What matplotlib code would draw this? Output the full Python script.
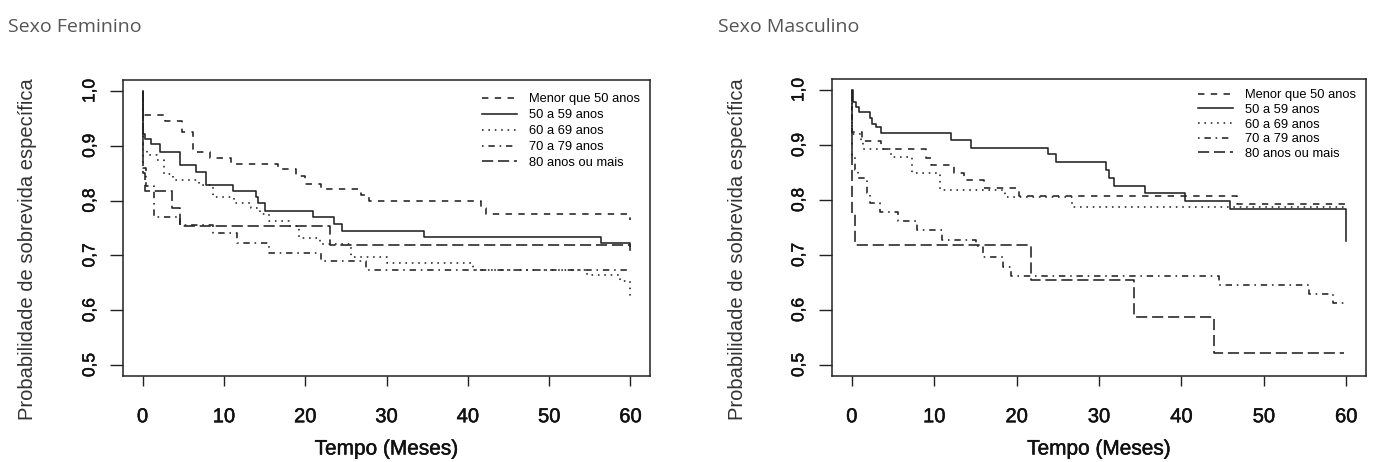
import matplotlib
matplotlib.use('Agg')
import matplotlib.pyplot as plt
import matplotlib.patheffects as pe
from matplotlib.ticker import FuncFormatter

# Kaplan-Meier step values (time in months, survival)
labels = ['Menor que 50 anos', '50 a 59 anos', '60 a 69 anos', '70 a 79 anos', '80 anos ou mais']

# Sexo Feminino
fem_t_lt50 = [0, 0, 2.8, 4.9, 6.2, 8.3, 10.9, 16.7, 18.9, 20.0, 22.0, 26.9, 27.9, 41.6, 42.2, 60]
fem_s_lt50 = [1.0, 0.957, 0.945, 0.925, 0.889, 0.878, 0.866, 0.857, 0.844, 0.831, 0.822, 0.81, 0.80, 0.787, 0.776, 0.764]
fem_t_50 = [0, 0, 0.3, 1.1, 2.1, 4.6, 6.6, 7.8, 11.1, 13.9, 14.2, 15.1, 21.0, 23.6, 24.5, 34.6, 56.4, 60]
fem_s_50 = [1.0, 0.921, 0.912, 0.904, 0.888, 0.865, 0.852, 0.829, 0.818, 0.807, 0.795, 0.781, 0.770, 0.758, 0.745, 0.734, 0.722, 0.71]
fem_t_60 = [0, 0.1, 0.5, 1.8, 2.6, 3.7, 7.0, 8.7, 11.3, 13.4, 14.4, 15.5, 18.0, 19.3, 21.8, 25.6, 30.0, 40.6, 54.7, 58.7, 60]
fem_s_60 = [1.0, 0.892, 0.883, 0.874, 0.849, 0.838, 0.828, 0.807, 0.795, 0.786, 0.775, 0.763, 0.753, 0.731, 0.72, 0.697, 0.686, 0.674, 0.664, 0.654, 0.62]
fem_t_70 = [0, 0, 0.4, 1.4, 4.6, 8.7, 11.6, 15.5, 22.0, 27.5, 60]
fem_s_70 = [1.0, 0.86, 0.826, 0.77, 0.755, 0.74, 0.722, 0.705, 0.69, 0.673, 0.673]
fem_t_80 = [0, 0, 0.3, 3.6, 4.6, 23.1, 60]
fem_s_80 = [1.0, 0.85, 0.818, 0.786, 0.753, 0.719, 0.716]

# Sexo Masculino
mas_t_lt50 = [0, 0, 1.2, 3.5, 9.0, 9.6, 12.4, 13.6, 16.0, 20.3, 46.8, 60]
mas_s_lt50 = [1.0, 0.923, 0.907, 0.892, 0.877, 0.863, 0.849, 0.836, 0.822, 0.807, 0.792, 0.792]
mas_t_50 = [0, 0.1, 0.5, 0.9, 2.2, 2.5, 2.9, 3.6, 12.0, 14.5, 23.8, 24.8, 30.9, 31.2, 31.8, 35.6, 40.4, 45.9, 60]
mas_s_50 = [1.0, 0.978, 0.969, 0.96, 0.949, 0.938, 0.932, 0.922, 0.91, 0.895, 0.883, 0.869, 0.855, 0.84, 0.826, 0.813, 0.798, 0.784, 0.725]
mas_t_60 = [0, 0, 1.1, 1.4, 4.7, 7.3, 10.7, 18.6, 26.7, 60]
mas_s_60 = [1.0, 0.92, 0.905, 0.892, 0.878, 0.849, 0.819, 0.805, 0.788, 0.788]
mas_t_70 = [0, 0, 0.4, 0.8, 1.9, 2.2, 3.4, 5.6, 7.9, 10.9, 15.1, 15.9, 18.4, 19.3, 44.6, 55.5, 58.4, 60]
mas_s_70 = [1.0, 0.88, 0.855, 0.84, 0.813, 0.795, 0.778, 0.761, 0.745, 0.727, 0.716, 0.696, 0.679, 0.662, 0.646, 0.629, 0.612, 0.612]
mas_t_80 = [0, 0, 0.4, 21.7, 34.2, 44.0, 59.7]
mas_s_80 = [1.0, 0.776, 0.719, 0.654, 0.587, 0.522, 0.522]

fem = [(fem_t_lt50, fem_s_lt50), (fem_t_50, fem_s_50), (fem_t_60, fem_s_60),
       (fem_t_70, fem_s_70), (fem_t_80, fem_s_80)]
mas = [(mas_t_lt50, mas_s_lt50), (mas_t_50, mas_s_50), (mas_t_60, mas_s_60),
       (mas_t_70, mas_s_70), (mas_t_80, mas_s_80)]

# R line types 2,1,3,4,5
dashes = [(0, (4, 4)), '-', (0, (1, 3)), (0, (1, 3, 4, 3)), (0, (7, 3))]
ink = '#222222'
thick = [pe.withStroke(linewidth=0.35, foreground='#111111')]

plt.rcParams['font.family'] = ['Liberation Sans', 'DejaVu Sans']

fig = plt.figure(figsize=(13.73, 4.62), dpi=100)
W, H = 1373.0, 462.0


def panel(box, curves, ylab_x, leg_y, leg_space):
    x0, y0, x1, y1 = box
    ax = fig.add_axes([x0 / W, 1 - y1 / H, (x1 - x0) / W, (y1 - y0) / H])
    for (t, s), ls, lab in zip(curves, dashes, labels):
        ax.plot(t, s, drawstyle='steps-post', color=ink, lw=1.15,
                linestyle=ls, label=lab)
    ax.set_xlim(-2.4, 62.4)
    ax.set_ylim(0.48, 1.02)
    ax.set_xticks([0, 10, 20, 30, 40, 50, 60])
    ax.set_yticks([0.5, 0.6, 0.7, 0.8, 0.9, 1.0])
    ax.yaxis.set_major_formatter(FuncFormatter(lambda v, p: ('%.1f' % v).replace('.', ',')))
    ax.tick_params(axis='x', direction='out', length=7.5, width=1, color=ink,
                   labelsize=14.5, labelcolor='#111111', pad=15)
    ax.tick_params(axis='y', direction='out', length=9.5, width=1, color=ink,
                   labelsize=12.5, labelcolor='#111111', pad=9)
    for lab in ax.get_yticklabels():
        lab.set_rotation(90)
        lab.set_va('center')
        lab.set_path_effects(thick)
    for lab in ax.get_xticklabels():
        lab.set_path_effects(thick)
    for sp in ax.spines.values():
        sp.set_color(ink)
        sp.set_linewidth(1.1)
    ax.legend(loc='upper right', bbox_to_anchor=(1.0, leg_y), frameon=False,
              fontsize=9.3, handlelength=2.7, handletextpad=0.9,
              labelspacing=leg_space, borderpad=0.3)
    cx = (x0 + x1) / 2 / W
    fig.text(cx, 1 - 449 / H, 'Tempo (Meses)', fontsize=15, color='#111111',
             ha='center', va='center', path_effects=thick)
    fig.text(ylab_x / W, 1 - 249 / H, 'Probabilidade de sobrevida específica',
             fontsize=14.5, color='#333333', rotation=90, ha='center', va='center')
    return ax


ax1 = panel((123, 80, 650, 376), fem, 28, 0.99, 0.3)
ax2 = panel((832, 79, 1366, 376), mas, 737, 1.0, 0.2)

fig.text(8 / W, 1 - 27 / H, 'Sexo Feminino', family=['Open Sans', 'DejaVu Sans'],
         fontsize=14, color='#555555', va='center')
fig.text(718 / W, 1 - 27 / H, 'Sexo Masculino', family=['Open Sans', 'DejaVu Sans'],
         fontsize=14, color='#555555', va='center')

fig.savefig('out.png', dpi=100, facecolor='white')
